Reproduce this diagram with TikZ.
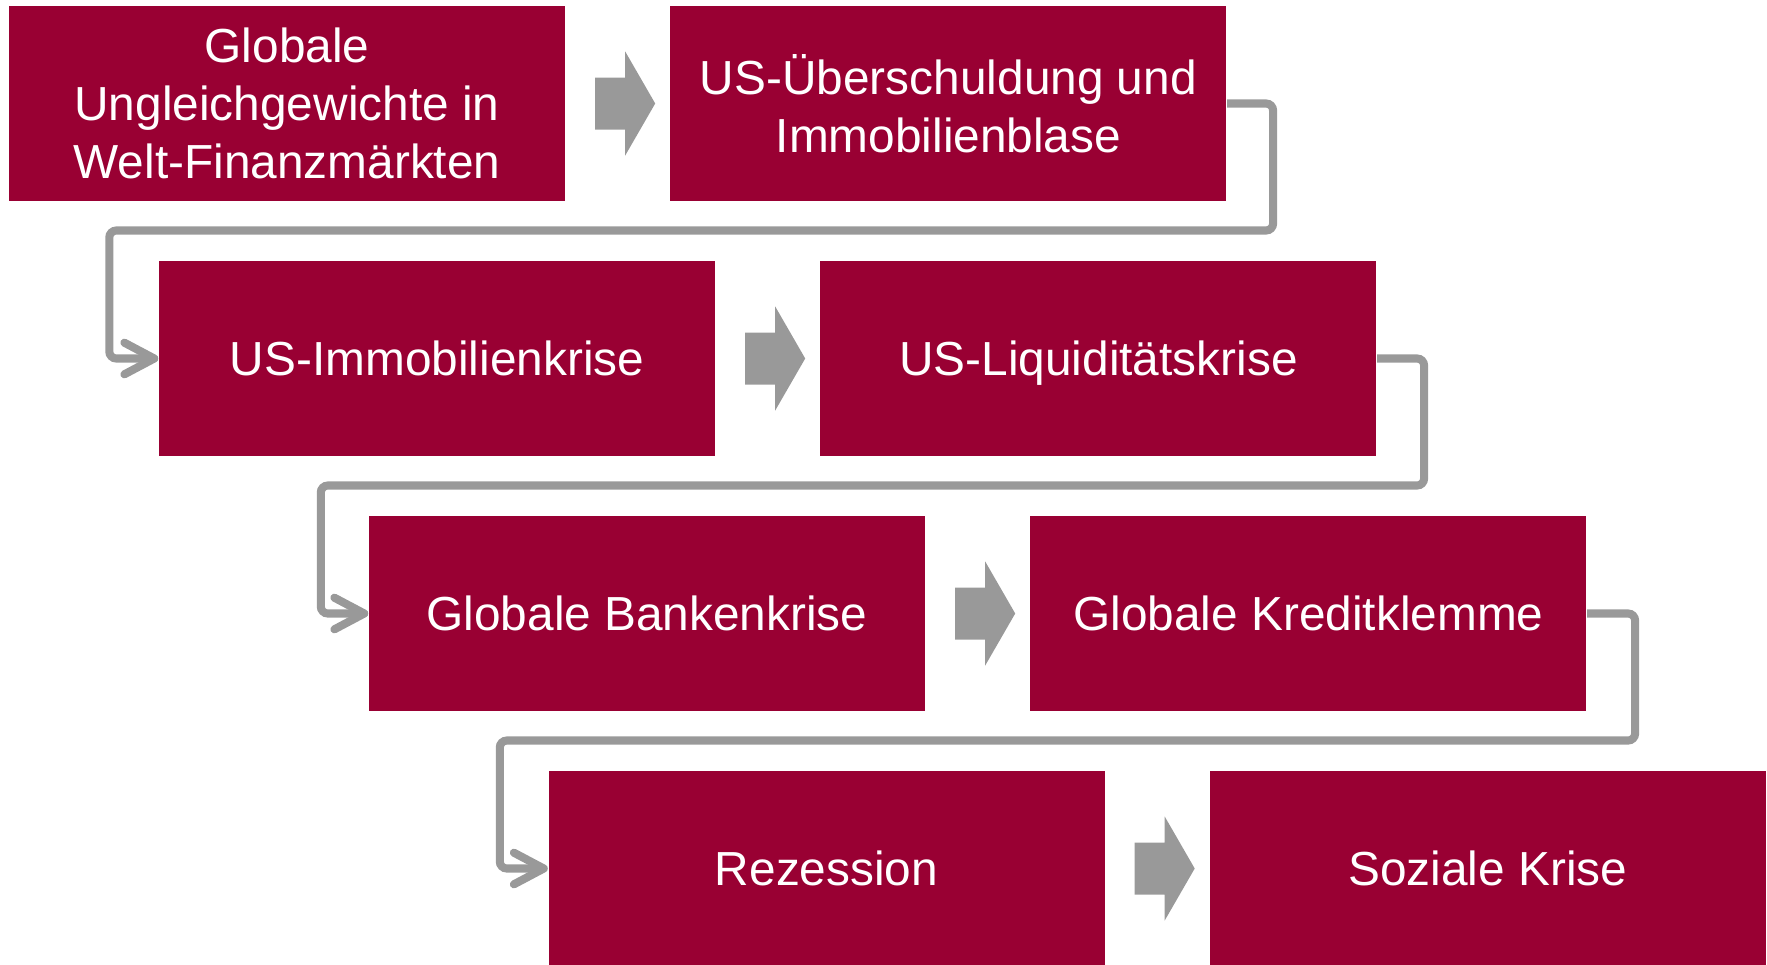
\documentclass[tikz,border=0pt]{standalone}
\usepackage{fontspec}
\setmainfont{Liberation Sans}
\usetikzlibrary{positioning,calc,arrows.meta}
\definecolor{boxred}{HTML}{990033}
\definecolor{linkgray}{HTML}{999999}
% filled gray arrow between two boxes of one row
\newcommand{\blockarrow}[1]{%
  \fill[linkgray, shift={($(#1.east)+(0.295,0)$)}]
    (0,0.26) -- (0.30,0.26) -- (0.30,0.52) -- (0.60,0) -- (0.30,-0.52) -- (0.30,-0.26) -- (0,-0.26) -- cycle;}
\begin{document}
\begin{tikzpicture}[node distance=1.04cm,
    box/.style={fill=boxred, text=white, minimum width=5.56cm, minimum height=1.95cm,
      inner sep=0pt, align=center, font=\fontsize{13.6}{16.4}\selectfont},
    link/.style={draw=linkgray, line width=2.3pt, rounded corners=2pt,
      -{Straight Barb[length=8.5pt,width=9pt,round]}}]
    \useasboundingbox (0,0) rectangle (17.67,-9.64);
    \node[box] (glob) at (2.87,-1.035) {Globale\\Ungleichgewichte in\\Welt-Finanzmärkten};
    \node[box, right=of glob] (schuld) {US-Überschuldung und\\Immobilienblase};
    \node[box] (immo) at (4.37,-3.585) {US-Immobilienkrise};
    \node[box, right=of immo] (liqui) {US-Li\smash{q}uiditätskrise};
    \node[box] (bank) at (6.47,-6.135) {Globale Bankenkrise};
    \node[box, right=of bank] (kredit) {Globale Kreditklemme};
    \node[box] (rez) at (8.265,-8.685) {Rezession};
    \node[box, right=of rez] (sozial) {Soziale Krise};
    % arrows within a row
    \blockarrow{glob}
    \blockarrow{immo}
    \blockarrow{bank}
    \blockarrow{rez}
    % elbows to the next row
    \draw[link] (schuld.east) -- ++(0.46,0) |- ($(immo.west)+(-0.49,1.28)$) |- (immo.west);
    \draw[link] (liqui.east) -- ++(0.47,0) |- ($(bank.west)+(-0.475,1.28)$) |- (bank.west);
    \draw[link] (kredit.east) -- ++(0.48,0) |- ($(rez.west)+(-0.48,1.28)$) |- (rez.west);
\end{tikzpicture}
\end{document}
